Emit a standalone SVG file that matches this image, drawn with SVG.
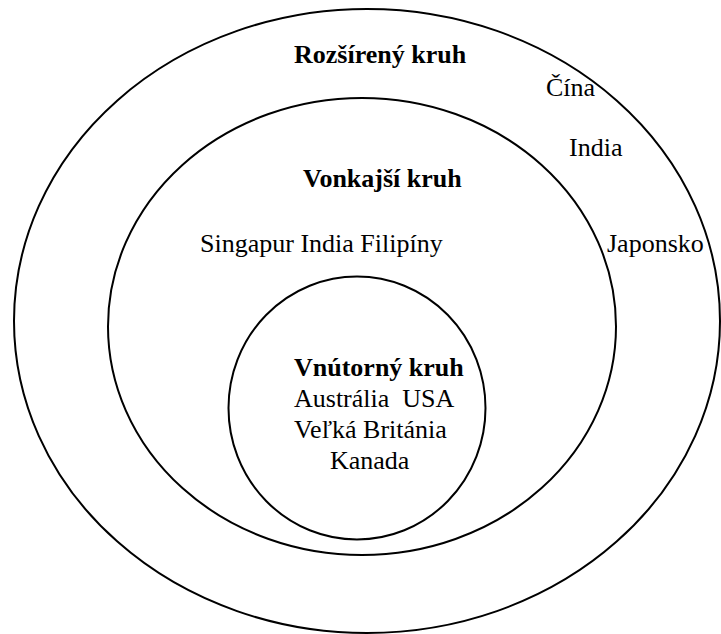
<svg xmlns="http://www.w3.org/2000/svg" width="721" height="634" viewBox="0 0 721 634">
<style>
.ring{fill:none;stroke:#000;stroke-width:2}
text{font-family:"Liberation Serif","Times New Roman",serif;font-size:26px;fill:#000}
.b{font-weight:bold}
</style>
<rect width="721" height="634" fill="#fff"/>
<g id="outer">
<ellipse class="ring" cx="367" cy="321" rx="353" ry="312"/>
<text class="b" x="294" y="63">Rozšírený kruh</text>
<text x="546" y="96">Čína</text>
<text x="569" y="156">India</text>
<text x="607" y="252">Japonsko</text>
</g>
<g id="middle">
<ellipse class="ring" cx="362" cy="326.5" rx="254" ry="228.5"/>
<text class="b" x="303" y="187">Vonkajší kruh</text>
<text x="200" y="252">Singapur India Filipíny</text>
</g>
<g id="inner">
<ellipse class="ring" cx="357" cy="408" rx="128.5" ry="131.5"/>
<text class="b" x="294" y="376">Vnútorný kruh</text>
<text x="294" y="407" xml:space="preserve">Austrália  USA</text>
<text x="294" y="438">Veľká Británia</text>
<text x="330" y="469">Kanada</text>
</g>
<g id="connectors"/>
</svg>
